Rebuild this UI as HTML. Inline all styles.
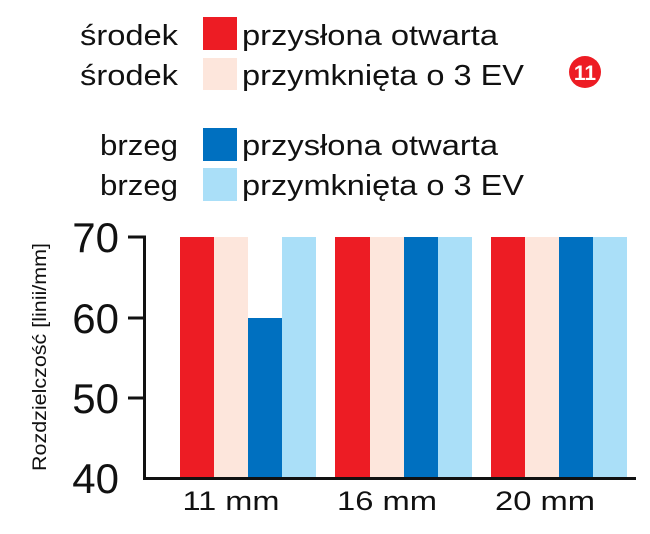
<!DOCTYPE html>
<html><head><meta charset="utf-8"><style>
html,body{margin:0;padding:0;background:#fff;}
</style></head><body>
<svg width="650" height="529" xmlns="http://www.w3.org/2000/svg" font-family="Liberation Sans, DejaVu Sans, sans-serif">
<g font-size="29" fill="#111">
<text x="178" y="45" text-anchor="end" textLength="98" lengthAdjust="spacingAndGlyphs">środek</text>
<text x="178" y="85" text-anchor="end" textLength="98" lengthAdjust="spacingAndGlyphs">środek</text>
<text x="178" y="155" text-anchor="end" textLength="78" lengthAdjust="spacingAndGlyphs">brzeg</text>
<text x="178" y="195" text-anchor="end" textLength="78" lengthAdjust="spacingAndGlyphs">brzeg</text>
<text x="242" y="45" textLength="256" lengthAdjust="spacingAndGlyphs">przysłona otwarta</text>
<text x="242" y="85" textLength="282" lengthAdjust="spacingAndGlyphs">przymknięta o 3 EV</text>
<text x="242" y="155" textLength="256" lengthAdjust="spacingAndGlyphs">przysłona otwarta</text>
<text x="242" y="195" textLength="282" lengthAdjust="spacingAndGlyphs">przymknięta o 3 EV</text>
</g>
<rect x="203" y="17" width="34" height="33" fill="#ed1c24"/>
<rect x="203" y="58" width="34" height="32" fill="#fde6dc"/>
<rect x="203" y="128" width="34" height="33" fill="#0070c0"/>
<rect x="203" y="168" width="34" height="33" fill="#aadff8"/>
<circle cx="585" cy="72" r="16" fill="#ed1c24"/>
<text x="585" y="80" font-size="21" font-weight="bold" fill="#fff" text-anchor="middle">11</text>
<g>
<rect x="180" y="237" width="34" height="241" fill="#ed1c24"/>
<rect x="214" y="237" width="34" height="241" fill="#fde6dc"/>
<rect x="248" y="318" width="34" height="160" fill="#0070c0"/>
<rect x="282" y="237" width="34" height="241" fill="#aadff8"/>
<rect x="335" y="237" width="35" height="241" fill="#ed1c24"/>
<rect x="370" y="237" width="34" height="241" fill="#fde6dc"/>
<rect x="404" y="237" width="34" height="241" fill="#0070c0"/>
<rect x="438" y="237" width="34" height="241" fill="#aadff8"/>
<rect x="491" y="237" width="34" height="241" fill="#ed1c24"/>
<rect x="525" y="237" width="34" height="241" fill="#fde6dc"/>
<rect x="559" y="237" width="34" height="241" fill="#0070c0"/>
<rect x="593" y="237" width="34" height="241" fill="#aadff8"/>
</g>
<g stroke="#111" stroke-width="3" fill="none">
<path d="M128 237 H144.5 V478.5 H636"/>
<path d="M128 318 H144 M128 398 H144"/>
</g>
<g font-size="42" fill="#111" text-anchor="end">
<text x="119" y="252">70</text>
<text x="119" y="333">60</text>
<text x="119" y="413">50</text>
<text x="119" y="493">40</text>
</g>
<g font-size="27" fill="#111" text-anchor="middle">
<text x="231" y="510" textLength="97" lengthAdjust="spacingAndGlyphs">11 mm</text>
<text x="387" y="510" textLength="100" lengthAdjust="spacingAndGlyphs">16 mm</text>
<text x="545" y="510" textLength="100" lengthAdjust="spacingAndGlyphs">20 mm</text>
</g>
<text transform="translate(46,357) rotate(-90)" font-size="19" fill="#111" text-anchor="middle" textLength="228" lengthAdjust="spacingAndGlyphs">Rozdzielczość  [linii/mm]</text>
</svg>
</body></html>
